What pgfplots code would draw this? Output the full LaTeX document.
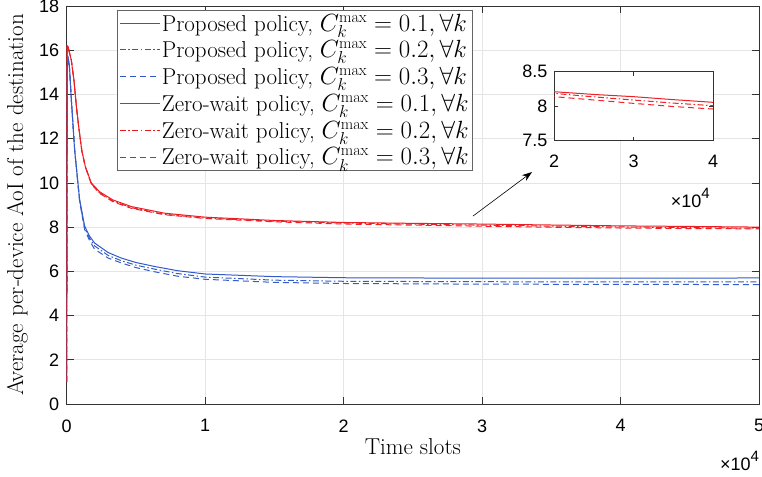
\documentclass[border=0pt]{standalone}
\usepackage{fontspec}
\usepackage{pgfplots}
\usepackage{pgfplotstable}
\usetikzlibrary{arrows.meta}
\pgfplotsset{compat=1.18}
\newfontfamily\ticksf{Liberation Sans}
% every stroke gets its own (nearly identical) colour
\definecolor{bA}{RGB}{50,90,200}
\definecolor{bB}{RGB}{51,91,201}
\definecolor{bC}{RGB}{52,92,202}
\definecolor{rA}{RGB}{235,30,35}
\definecolor{rB}{RGB}{236,31,36}
\definecolor{rC}{RGB}{237,32,37}
\definecolor{bAl}{RGB}{49,89,199}
\definecolor{bBl}{RGB}{48,88,198}
\definecolor{bCl}{RGB}{47,87,197}
\definecolor{rAl}{RGB}{234,29,34}
\definecolor{rBl}{RGB}{233,28,33}
\definecolor{rCl}{RGB}{232,27,32}
\definecolor{rAi}{RGB}{238,33,38}
\definecolor{rBi}{RGB}{239,34,39}
\definecolor{rCi}{RGB}{240,35,40}
\definecolor{axgray}{RGB}{50,50,50}
\definecolor{lgray}{RGB}{100,100,100}

\pgfplotstableread{
x y
0 1.0
40 16.2
100 16.17
340 15.55
530 14.65
700 13.5
870 12.55
1100 11.45
1350 10.75
1780 10.0
2380 9.6
3340 9.23
4670 8.93
7070 8.63
10000 8.45
15000 8.3
20000 8.21
25000 8.17
30000 8.138
35000 8.095
40000 8.056
45000 8.03
50000 8.00
}\redA
\pgfplotstableread{
x y
0 1.0
40 16.2
100 16.17
340 15.55
530 14.65
700 13.5
870 12.55
1100 11.45
1350 10.74
1780 9.97
2380 9.55
3340 9.18
4670 8.88
7070 8.58
10000 8.41
15000 8.27
20000 8.186
25000 8.135
30000 8.089
35000 8.045
40000 8.007
45000 7.975
50000 7.95
}\redB
\pgfplotstableread{
x y
0 1.0
40 16.2
100 16.17
340 15.55
530 14.65
700 13.5
870 12.55
1100 11.43
1350 10.72
1780 9.95
2380 9.53
3340 9.15
4670 8.85
7070 8.56
10000 8.39
15000 8.24
20000 8.138
25000 8.09
30000 8.041
35000 7.995
40000 7.959
45000 7.935
50000 7.92
}\redC
\pgfplotstableread{
x y
0 1.0
40 15.2
120 15.6
200 15.3
340 13.8
580 11.5
940 9.25
1300 8.05
1650 7.6
2020 7.28
3000 6.85
3950 6.6
5000 6.4
6350 6.22
8000 6.03
10000 5.88
15000 5.76
20000 5.71
30000 5.69
40000 5.69
50000 5.70
}\blueA
\pgfplotstableread{
x y
0 1.0
40 15.2
120 15.6
200 15.3
340 13.8
580 11.5
940 9.2
1300 7.98
1650 7.5
2020 7.15
3000 6.72
3950 6.48
5000 6.28
6350 6.1
8000 5.9
10000 5.74
15000 5.6
20000 5.55
30000 5.53
40000 5.52
50000 5.52
}\blueB
\pgfplotstableread{
x y
0 1.0
40 15.2
120 15.6
200 15.3
340 13.8
580 11.5
940 9.15
1300 7.9
1650 7.4
2020 7.0
3000 6.6
3950 6.38
5000 6.17
6350 5.98
8000 5.78
10000 5.64
15000 5.5
20000 5.45
30000 5.42
40000 5.41
50000 5.40
}\blueC

\tikzset{
  mydashdot/.style={dash pattern=on 6pt off 2.5pt on 1.5pt off 2.5pt},
  mydashed/.style={dash pattern=on 6pt off 4pt},
}
\pgfplotsset{
  ticks/.style={
    tick align=inside, major tick length=7pt,
    axis line style={draw=axgray, line width=0.6pt},
    every tick/.style={draw=axgray, line width=0.6pt},
    tick label style={font=\ticksf\fontsize{18}{18}\selectfont},
    /pgf/number format/assume math mode=true,
    scaled x ticks=false,
    clip mode=individual,
  },
}

\begin{document}
\begin{tikzpicture}
\begin{axis}[
  at={(0pt,0pt)}, anchor=south west,
  scale only axis, width=692.5pt, height=398pt,
  xmin=0, xmax=50000, ymin=0, ymax=18,
  xtick={0,10000,20000,30000,40000,50000}, xticklabels={0,1,2,3,4,5},
  ytick={0,2,...,18},
  ticks,
  grid=major, major grid style={line width=0.6pt, draw=black!10},
  xticklabel style={yshift=-12pt},
  yticklabel style={xshift=-4pt},
  xlabel={Time slots},
  ylabel={Average per-device AoI of the destination},
  every axis x label/.style={at={(axis description cs:0.5,-0.108)}, anchor=center,
    font=\fontsize{23}{26}\selectfont},
  every axis y label/.style={at={(axis description cs:-0.071,0.5)}, rotate=90, anchor=center,
    font=\fontsize{23}{26}\selectfont},
  legend style={at={(rel axis cs:0.0728,0.99)}, anchor=north west,
    draw=lgray, line width=0.6pt, fill=white,
    font=\fontsize{23}{26}\selectfont, inner sep=2pt,
    nodes={inner sep=1.5pt}, row sep=5pt},
  legend cell align=left,
]
\addplot[draw=bA, line width=1pt,
  legend image code/.code={\draw[draw=bAl, line width=1pt] (0pt,0pt) -- (40pt,0pt);}] table {\blueA};
\addplot[draw=bB, line width=1pt, mydashdot,
  legend image code/.code={\draw[draw=bBl, line width=1pt, mydashdot] (0pt,0pt) -- (40pt,0pt);}] table {\blueB};
\addplot[draw=bC, line width=1pt, mydashed,
  legend image code/.code={\draw[draw=bCl, line width=1pt, mydashed] (0pt,0pt) -- (40pt,0pt);}] table {\blueC};
\addplot[draw=rA, line width=1pt,
  legend image code/.code={\draw[draw=rAl, line width=1pt] (0pt,0pt) -- (40pt,0pt);}] table {\redA};
\addplot[draw=rB, line width=1pt, mydashdot,
  legend image code/.code={\draw[draw=rBl, line width=1pt, mydashdot] (0pt,0pt) -- (40pt,0pt);}] table {\redB};
\addplot[draw=rC, line width=1pt, mydashed,
  legend image code/.code={\draw[draw=rCl, line width=1pt, mydashed] (0pt,0pt) -- (40pt,0pt);}] table {\redC};
\legend{
{Proposed policy, $C_k^{\max}=0.1,\forall k$},
{Proposed policy, $C_k^{\max}=0.2,\forall k$},
{Proposed policy, $C_k^{\max}=0.3,\forall k$},
{Zero-wait policy, $C_k^{\max}=0.1,\forall k$},
{Zero-wait policy, $C_k^{\max}=0.2,\forall k$},
{Zero-wait policy, $C_k^{\max}=0.3,\forall k$}}
\draw[-{Stealth[length=10pt,width=7pt]}, line width=0.6pt] (axis cs:29343,8.50) -- (axis cs:33603,10.49);
\node[anchor=east, inner sep=0pt, font=\ticksf\fontsize{18}{18}\selectfont] at (rel axis cs:1,-0.142) {×10\raisebox{0.5em}{\fontsize{15}{15}\selectfont 4}};
\end{axis}

\begin{axis}[
  at={(487.4pt,263.3pt)}, anchor=south west,
  scale only axis, width=159pt, height=69pt,
  xmin=20000, xmax=40000, ymin=7.5, ymax=8.5,
  xtick={20000,30000,40000}, xticklabels={2,3,4},
  ytick={7.5,8,8.5}, yticklabels={7.5,8,8.5},
  ticks, major tick length=4pt,
  axis background/.style={fill=white},
  xticklabel style={yshift=-11pt},
  yticklabel style={xshift=-3pt},
]
\addplot[draw=rAi, line width=1pt] table {\redA};
\addplot[draw=rBi, line width=1pt, mydashdot] table {\redB};
\addplot[draw=rCi, line width=1pt, mydashed] table {\redC};
\node[anchor=east, inner sep=0pt, font=\ticksf\fontsize{18}{18}\selectfont] at (rel axis cs:0.98,-0.83) {×10\raisebox{0.5em}{\fontsize{15}{15}\selectfont 4}};
\end{axis}
\pgfresetboundingbox
\path (-66.6pt,-72pt) rectangle (695.4pt,404pt);
\end{tikzpicture}
\end{document}
